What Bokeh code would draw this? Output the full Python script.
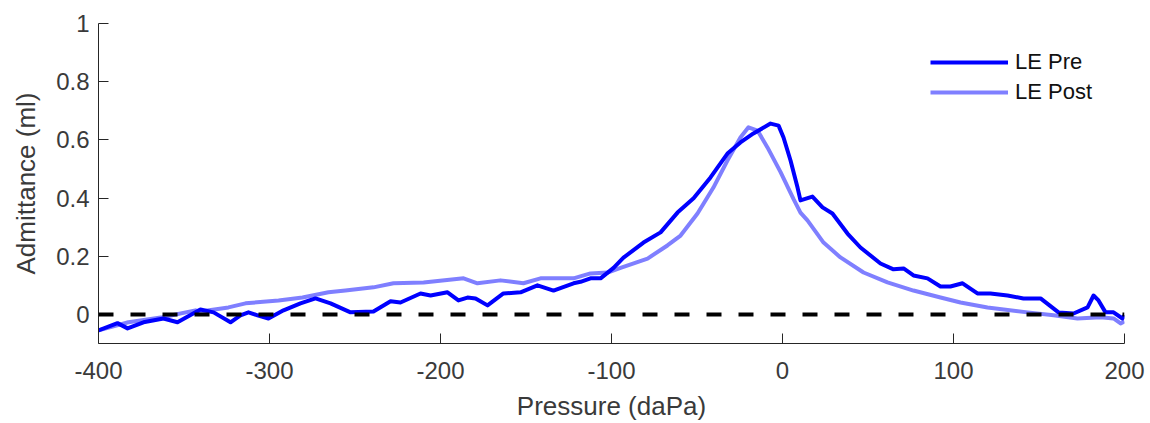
from bokeh.plotting import figure
from bokeh.models import FixedTicker, Span, Legend, LegendItem
from bokeh.embed import file_html
from bokeh.resources import INLINE

# ---- data ----
pre_x = [-400.0, -388.9, -383.0, -373.7, -362.0, -353.8, -340.4, -332.7, -322.8, -317.0,
         -312.3, -307.0, -300.6, -291.8, -281.9, -273.1, -264.3, -252.6, -239.2, -229.2,
         -223.4, -211.7, -205.8, -195.9, -189.5, -184.2, -179.5, -172.5, -163.2, -153.2,
         -143.3, -133.9, -122.2, -118.1, -112.3, -106.4, -98.8, -93.0, -81.3, -71.3,
         -61.4, -52.0, -42.1, -32.2, -24.6, -17.0, -7.0, -2.3, 0.6, 4.7,
         8.8, 10.5, 17.5, 23.4, 29.2, 38.0, 45.6, 57.3, 64.9, 70.8,
         76.6, 84.8, 92.4, 98.2, 105.3, 114.0, 121.6, 131.6, 140.9, 150.9,
         161.4, 170.2, 178.4, 181.9, 184.8, 188.9, 193.6, 198.8, 200.0]
pre_y = [-0.055, -0.030, -0.048, -0.027, -0.014, -0.027, 0.017, 0.007, -0.027, -0.003,
         0.007, -0.003, -0.014, 0.014, 0.038, 0.055, 0.038, 0.007, 0.010, 0.045,
         0.041, 0.072, 0.065, 0.076, 0.048, 0.058, 0.055, 0.031, 0.072, 0.076,
         0.100, 0.082, 0.107, 0.112, 0.124, 0.124, 0.160, 0.195, 0.247, 0.282,
         0.350, 0.399, 0.471, 0.553, 0.591, 0.622, 0.656, 0.649, 0.608, 0.529,
         0.436, 0.392, 0.405, 0.368, 0.347, 0.278, 0.230, 0.175, 0.155, 0.158,
         0.134, 0.124, 0.096, 0.096, 0.107, 0.072, 0.072, 0.065, 0.055, 0.055,
         0.007, 0.003, 0.024, 0.065, 0.048, 0.007, 0.007, -0.014, -0.003]

post_x = [-400.0, -382.5, -362.6, -343.3, -340.4, -324.0, -314.0, -294.7, -280.7, -265.5,
          -255.6, -239.2, -227.5, -209.9, -186.5, -178.4, -164.9, -151.5, -141.5, -122.2,
          -112.3, -102.3, -94.7, -78.9, -67.3, -59.6, -49.7, -40.4, -32.2, -24.6,
          -19.9, -14.6, -8.8, -1.2, 6.4, 10.5, 14.6, 24.0, 33.9, 47.4,
          61.4, 76.6, 92.4, 104.1, 119.9, 143.3, 158.5, 172.5, 186.0, 193.6,
          197.7, 200.0]
post_y = [-0.055, -0.027, -0.010, 0.014, 0.010, 0.024, 0.038, 0.048, 0.058, 0.076,
          0.082, 0.093, 0.107, 0.110, 0.124, 0.107, 0.117, 0.107, 0.124, 0.124,
          0.141, 0.144, 0.160, 0.192, 0.237, 0.271, 0.347, 0.436, 0.529, 0.608,
          0.643, 0.632, 0.574, 0.490, 0.397, 0.350, 0.323, 0.247, 0.196, 0.144,
          0.110, 0.082, 0.058, 0.041, 0.024, 0.007, -0.003, -0.014, -0.010, -0.014,
          -0.031, -0.024]

series_names = ["LE Pre", "LE Post"]
x_ticks = [-400, -300, -200, -100, 0, 100, 200]
x_tick_labels = ["-400", "-300", "-200", "-100", "0", "100", "200"]
y_ticks = [0, 0.2, 0.4, 0.6, 0.8, 1]
y_tick_labels = ["0", "0.2", "0.4", "0.6", "0.8", "1"]
zero_level = 0
x_title = "Pressure (daPa)"
y_title = "Admittance (ml)"

FONT = "Liberation Sans"
TXT = "#3a3a3a"
AX = "#262626"

p = figure(width=1150, height=423, x_range=(-400, 200), y_range=(-0.1, 1),
           output_backend="svg", toolbar_location=None,
           min_border_left=98, min_border_right=26, min_border_top=23, min_border_bottom=80)
p.outline_line_color = None
p.xgrid.visible = False
p.ygrid.visible = False
p.background_fill_color = "white"
p.border_fill_color = "white"

r_pre = p.line(pre_x, pre_y, line_color="#0000ff", line_width=4, line_join="round")
r_post = p.line(post_x, post_y, line_color="#0000ff", line_alpha=0.5, line_width=4,
                line_join="round")

p.add_layout(Span(location=zero_level, dimension="width", line_color="black",
                  line_width=4, line_dash="15 17"))

for ax, ticks, labels in ((p.xaxis[0], x_ticks, x_tick_labels), (p.yaxis[0], y_ticks, y_tick_labels)):
    ax.ticker = FixedTicker(ticks=ticks)
    ax.major_label_overrides = {t: l for t, l in zip(ticks, labels)}
    ax.minor_tick_line_color = None
    ax.major_tick_in = 10
    ax.major_tick_out = 0
    ax.axis_line_color = AX
    ax.major_tick_line_color = AX
    ax.major_label_text_font = FONT
    ax.major_label_text_font_size = "24px"
    ax.major_label_text_color = TXT
    ax.axis_label_text_font = FONT
    ax.axis_label_text_font_size = "26px"
    ax.axis_label_text_font_style = "normal"
    ax.axis_label_text_color = TXT

p.xaxis.axis_label = x_title
p.yaxis.axis_label = y_title
p.xaxis.major_label_text_line_height = 1.0
p.xaxis.axis_label_text_line_height = 1.0
p.xaxis.major_label_standoff = 18
p.xaxis.axis_label_standoff = 9
p.yaxis.major_label_standoff = 9
p.yaxis.axis_label_standoff = 12

legend = Legend(items=[LegendItem(label=series_names[0], renderers=[r_pre]),
                       LegendItem(label=series_names[1], renderers=[r_post])],
                location=(832, 236))
legend.border_line_color = None
legend.background_fill_alpha = 0
legend.padding = 0
legend.margin = 0
legend.spacing = 0
legend.glyph_width = 78
legend.glyph_height = 30
legend.label_height = 30
legend.label_standoff = 7
legend.label_text_font = FONT
legend.label_text_font_size = "22px"
legend.label_text_color = "#111111"
p.add_layout(legend, "center")

open("out.html", "w").write(file_html(p, INLINE))
